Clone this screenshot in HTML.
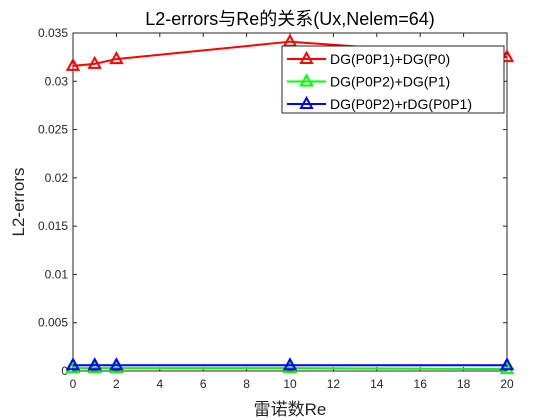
<!DOCTYPE html>
<html><head><meta charset="utf-8"><style>body{margin:0;background:#fff}svg{display:block}</style></head>
<body>
<svg id="chart" width="560" height="420" xmlns="http://www.w3.org/2000/svg" font-family="Liberation Sans, Noto Sans CJK SC, sans-serif"></svg>
<script>
const categories=[0,1,2,10,20];
const seriesRed=[0.0316,0.0318,0.0323,0.0341,0.0325];
const seriesGreen=[0.0003,0.0003,0.0003,0.0003,0.0002];
const seriesBlue=[0.0006,0.0006,0.0006,0.0006,0.0006];
const xTicks=[0,2,4,6,8,10,12,14,16,18,20];
const yTicks=[0,0.005,0.01,0.015,0.02,0.025,0.03,0.035];
const yTickLabels=["0","0.005","0.01","0.015","0.02","0.025","0.03","0.035"];
const names=["DG(P0P1)+DG(P0)","DG(P0P2)+DG(P1)","DG(P0P2)+rDG(P0P1)"];
const L=73,R=507,T=33,B=371;
const sx=v=>L+(v-0)/20*(R-L);
const sy=v=>B-(v/0.035)*(B-T);
const svg=document.getElementById('chart');
const NS='http://www.w3.org/2000/svg';
function mk(tag,attrs,parent){const e=document.createElementNS(NS,tag);for(const k in attrs)e.setAttribute(k,attrs[k]);(parent||svg).appendChild(e);return e;}
let bg=mk('rect',{x:L,y:T,width:R-L,height:B-T,fill:'#fff'});


xTicks.forEach(t=>{const x=sx(t);
 mk('line',{x1:x,y1:B,x2:x,y2:B-4,stroke:'#262626'});mk('line',{x1:x,y1:T,x2:x,y2:T+4,stroke:'#262626'});
 const tx=mk('text',{x:x,y:B+17,'font-size':12,'text-anchor':'middle',fill:'#262626'});tx.textContent=t;
 
 });
yTicks.forEach((t,i)=>{const y=sy(t);
 mk('line',{x1:L,y1:y,x2:L+4,y2:y,stroke:'#262626'});mk('line',{x1:R,y1:y,x2:R-4,y2:y,stroke:'#262626'});
 const tx=mk('text',{x:L-5,y:y+4,'font-size':12,'text-anchor':'end',fill:'#262626'});tx.textContent=yTickLabels[i];
 
 });
let ax=mk('rect',{x:L,y:T,width:R-L,height:B-T,fill:'none',stroke:'#262626'});


function tri(x,y,c,g){mk('polygon',{points:`${x},${y-6} ${x-5.5},${y+4} ${x+5.5},${y+4}`,fill:'none',stroke:c,'stroke-width':2},g);}
const series=[[seriesRed,'#ff0000'],[seriesGreen,'#00ff00'],[seriesBlue,'#0000ff']];
series.forEach(([d,c],si)=>{const g=mk('g',{});
 
 
 mk('polyline',{points:d.map((v,i)=>sx(categories[i])+','+sy(v)).join(' '),fill:'none',stroke:c,'stroke-width':2},g);
 d.forEach((v,i)=>tri(sx(categories[i]),sy(v),c,g));});
const lg=mk('g',{});


mk('rect',{x:282,y:46,width:222,height:67,fill:'#fff',stroke:'#262626'},lg);
series.forEach(([d,c],i)=>{const y=59+i*22.5;
 mk('line',{x1:287,y1:y,x2:326,y2:y,stroke:c,'stroke-width':2},lg);tri(306.5,y,c,lg);
 const t=mk('text',{x:330,y:y+5,'font-size':14,fill:'#000'},lg);t.textContent=names[i];
 
 });
let ti=mk('text',{x:290,y:25,'font-size':18,'text-anchor':'middle',fill:'#000'});ti.textContent='L2-errors与Re的关系(Ux,Nelem=64)';


let xl=mk('text',{x:290,y:415,'font-size':17,'text-anchor':'middle',fill:'#262626'});xl.textContent='雷诺数Re';


let yl=mk('text',{x:0,y:0,'font-size':17,'text-anchor':'middle',fill:'#262626',transform:'translate(24,202) rotate(-90)'});yl.textContent='L2-errors';


</script>
</body></html>
